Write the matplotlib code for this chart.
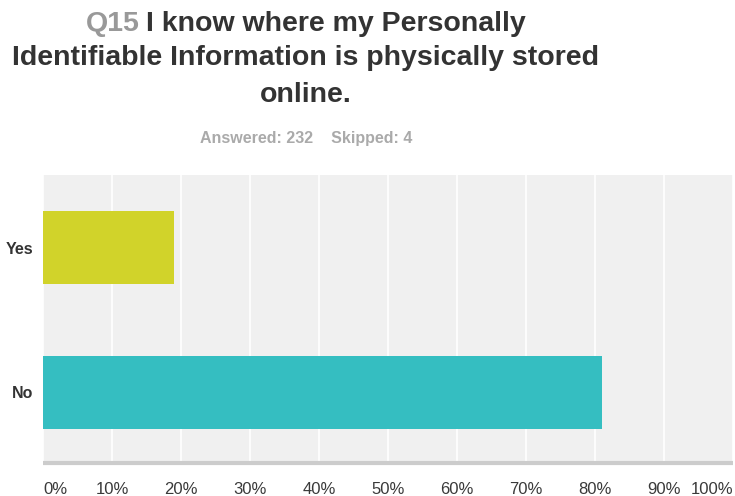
import matplotlib.pyplot as plt
from matplotlib.ticker import FuncFormatter

# Q15 answers (percent of respondents)
answers = ["Yes", "No"]
percents = [18.97, 81.03]
bar_colors = ["#d1d32a", "#35bec1"]
x_ticks = [0, 10, 20, 30, 40, 50, 60, 70, 80, 90, 100]
answered = 232
skipped = 4

plt.rcParams['font.family'] = ['Liberation Sans', 'DejaVu Sans']

W, H = 735, 496
fig = plt.figure(figsize=(W / 100, H / 100), dpi=100, facecolor='white')
ax = fig.add_axes([43 / W, 33 / H, 690 / W, 288 / H])
ax.set_facecolor('#f0f0f0')

ypos = list(range(len(answers)))
ax.barh(ypos, percents, height=0.505, color=bar_colors, zorder=3)
ax.set_ylim(1.491, -0.502)
ax.set_xlim(0, 100)

ax.set_yticks(ypos)
ax.set_yticklabels(answers, fontsize=11.5, fontweight='bold', color='#333333')
ax.set_xticks(x_ticks)
ax.xaxis.set_major_formatter(FuncFormatter(lambda v, p: f"{v:.0f}%"))
ax.tick_params(axis='both', length=0)
ax.tick_params(axis='x', pad=14, labelsize=12, labelcolor='#3a3a3a')
ax.tick_params(axis='y', pad=7)

# first and last tick labels sit inside the plot edges
xlabels = ax.get_xticklabels()
xlabels[0].set_ha('left')
xlabels[-1].set_ha('right')

ax.grid(axis='x', color='white', linewidth=1.2, zorder=1)
for side in ['top', 'right', 'left']:
    ax.spines[side].set_visible(False)
ax.spines['bottom'].set_color('#cccccc')
ax.spines['bottom'].set_linewidth(3)
ax.spines['bottom'].set_capstyle('butt')

# title: question number in grey, question text in dark grey
fs = 20.5
cx = 306 / W
fig.text(cx, 1 - 58 / H, "Identifiable Information is physically stored",
         color='#333333', fontsize=fs, fontweight='bold', ha='center', va='center')
fig.text(cx, 1 - 95 / H, "online.", color='#333333',
         fontsize=fs, fontweight='bold', ha='center', va='center')

t_num = fig.text(0, 1 - 24 / H, "Q15", color='#999999',
                 fontsize=fs, fontweight='bold', ha='left', va='center')
t_rest = fig.text(0, 1 - 24 / H, "I know where my Personally", color='#333333',
                  fontsize=fs, fontweight='bold', ha='left', va='center')
fig.canvas.draw()
r = fig.canvas.get_renderer()
w_num = t_num.get_window_extent(r).width
w_rest = t_rest.get_window_extent(r).width
gap = 6
x0 = cx * W - (w_num + gap + w_rest) / 2
t_num.set_x(x0 / W)
t_rest.set_x((x0 + w_num + gap) / W)

fig.text(cx, 1 - 138 / H, f"Answered: {answered}    Skipped: {skipped}",
         color='#aaaaaa', fontsize=11.5, fontweight='bold', ha='center', va='center')

fig.savefig('out.png', dpi=100, facecolor='white')
